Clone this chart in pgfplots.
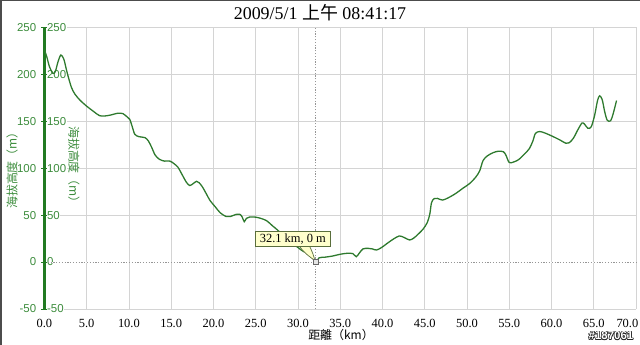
\documentclass[border=0pt]{standalone}
\usepackage{fontspec}
\setmainfont{Liberation Serif}
\setsansfont{Liberation Sans}
\newfontfamily\cjk{Noto Sans CJK TC}
\usepackage{pgfplots}
\pgfplotsset{compat=1.18}
\definecolor{curvegreen}{RGB}{46,122,46}
\definecolor{axisgreen}{RGB}{34,122,34}
\definecolor{labelgreen}{RGB}{60,140,60}
\definecolor{gridgray}{RGB}{212,212,212}
\definecolor{dotgray}{RGB}{150,150,150}
\definecolor{tipfill}{RGB}{255,255,204}
\definecolor{tipdraw}{RGB}{90,110,60}
\begin{document}
\begin{tikzpicture}
\path[use as bounding box] (0,0) rectangle (640bp,345bp);
\begin{axis}[
  at={(44.4bp,36bp)}, anchor=south west,
  scale only axis, width=591.6bp, height=281.7bp,
  xmin=0, xmax=70, ymin=-50, ymax=250,
  axis x line*=bottom, axis y line*=left,
  x axis line style={black, line width=0.9bp, -},
  y axis line style={axisgreen, line width=2.2bp, -},
  xtick={0,5,...,65}, ytick={-50,0,...,250},
  grid=major, major grid style={gridgray, line width=0.8bp},
  xtick style={draw=none},
  ytick style={axisgreen, line width=0.9bp},
  tick align=center, major tick length=6bp,
  /pgf/number format/assume math mode=true,
  xticklabel={\pgfmathprintnumber[fixed,fixed zerofill,precision=1]{\tick}},
  xticklabel style={font=\fontsize{12.5}{13}\selectfont, inner sep=0pt, yshift=-7bp},
  extra x ticks={70},
  extra x tick style={xticklabel style={anchor=north east, xshift=2.5bp}},
  yticklabel style={font=\fontsize{11.5}{12}\sffamily, text=labelgreen, inner sep=0pt, anchor=east, xshift=-5bp},
  extra y ticks={-50,0,...,250},
  extra y tick style={yticklabel style={anchor=west, xshift=10bp, fill=white, inner xsep=0.5bp}},
  clip=false,
]
\draw[white, line width=1bp] (axis cs:0.4,0) -- (axis cs:70,0);
\draw[dotgray, line width=1bp, dash pattern=on 1.2bp off 1.6bp] (axis cs:0.4,0) -- (axis cs:70,0);
\draw[dotgray, line width=1bp, dash pattern=on 1.2bp off 1.6bp] (axis cs:32.1,-50) -- (axis cs:32.1,250);
\addplot[curvegreen, line width=1.3bp, smooth, tension=0.5] coordinates {
(0.0,226) (0.3,218) (0.6,208) (1.0,201) (1.3,203) (1.6,213) (1.95,220.5)
(2.3,216) (2.6,205) (2.8,198) (3.2,186) (3.6,179) (4.2,172.5) (5.0,166)
(5.8,160.5) (6.5,156) (7.1,155.5) (7.8,156.5) (8.7,158.5) (9.3,158) (9.8,154.5)
(10.1,152) (10.4,144) (10.7,136) (11.2,133.5) (11.9,132.5) (12.3,129) (12.7,122)
(13.1,114) (13.6,109.5) (14.2,107.5) (14.85,107.5) (15.3,105) (15.8,101) (16.3,93)
(16.8,85) (17.2,81.5) (17.6,83.5) (18.0,86) (18.3,84.5) (18.7,80) (19.2,72)
(19.6,65.5) (20.2,59) (20.8,52.5) (21.5,48.5) (22.0,48.5) (22.6,50.5) (23.1,51)
(23.4,48) (23.65,43) (23.9,46.5) (24.3,48) (25.0,47.8) (25.6,46.5) (26.3,44)
(27.0,38.5) (27.6,34) (28.4,27) (29.2,21) (30.0,15.5) (30.7,11) (31.2,11)
(31.6,7) (32.1,0) (32.5,4.5) (33.2,5.2) (34.1,6.4) (35.0,8.3) (35.8,9.3)
(36.5,9.0) (36.9,5.7) (37.3,10) (37.7,14) (38.3,14.6) (38.8,14) (39.3,12.8)
(39.9,15.5) (40.5,19.5) (41.3,24.5) (42.0,27.8) (42.6,26) (43.2,23.5) (43.7,25.5)
(44.2,29.5) (44.8,35) (45.3,42) (45.6,51) (45.8,63) (46.1,67.5) (46.5,67.8)
(47.1,66) (47.8,68.5) (48.7,73.2) (49.5,78.5) (50.3,83.5) (51.0,90) (51.5,97)
(51.9,108) (52.4,113) (53.1,116.5) (53.7,118) (54.3,117.5) (54.6,114) (55.0,106)
(55.5,106.5) (56.1,109) (56.8,115) (57.4,121) (57.8,129) (58.1,137) (58.6,139)
(59.2,137.5) (60.1,134) (61.0,130) (61.7,126.5) (62.1,127) (62.6,132) (63.1,140.5)
(63.6,148) (63.9,147) (64.3,142.5) (64.7,144) (65.1,156) (65.45,172) (65.7,177)
(66.0,173) (66.3,160) (66.6,151) (67.0,150.5) (67.3,158) (67.7,172)
};
\draw[tipdraw, fill=tipfill, line width=0.7bp] (axis cs:30.2,16.5) .. controls (axis cs:30.8,9) and (axis cs:31.5,5) .. (axis cs:32.0,1.5) .. controls (axis cs:31.9,6) and (axis cs:31.7,11) .. (axis cs:31.4,16.5);
\addplot[only marks, mark=square*, mark size=2.2bp, mark options={draw=gray!80!black, fill=gray!20, line width=0.7bp}] coordinates {(32.1,0)};
\node[draw=tipdraw, fill=tipfill, line width=0.7bp, inner xsep=4bp, inner ysep=2.5bp, anchor=south, font=\fontsize{12.5}{13}\selectfont] at (axis cs:29.4,16) {32.1 km, 0 m};
\end{axis}
\node[font=\fontsize{18}{20}\selectfont] at (320bp,332bp) {2009/5/1 {\cjk 上午} 08:41:17};
\node[font=\fontsize{12}{13}\cjk, text=labelgreen, rotate=90] at (12bp,177.5bp) {海拔高度（m）};
\node[font=\fontsize{12}{13}\cjk, text=labelgreen, rotate=-90] at (74bp,177.5bp) {海拔高度（m）};
\node[font=\fontsize{12}{13}\cjk] at (341bp,10bp) {距離（km）};
\foreach \a in {0,45,...,315}
  \node[font=\fontsize{11.5}{13}\sffamily\bfseries, text=black!85] at ([shift={(\a:0.7bp)}]611bp,9bp) {\#187061};
\node[font=\fontsize{11.5}{13}\sffamily\bfseries, text=white] at (611bp,9bp) {\#187061};
\draw[gray!60!black, line width=1.5bp] (0.75bp,0) -- (0.75bp,344.25bp) -- (640bp,344.25bp);
\end{tikzpicture}
\end{document}
